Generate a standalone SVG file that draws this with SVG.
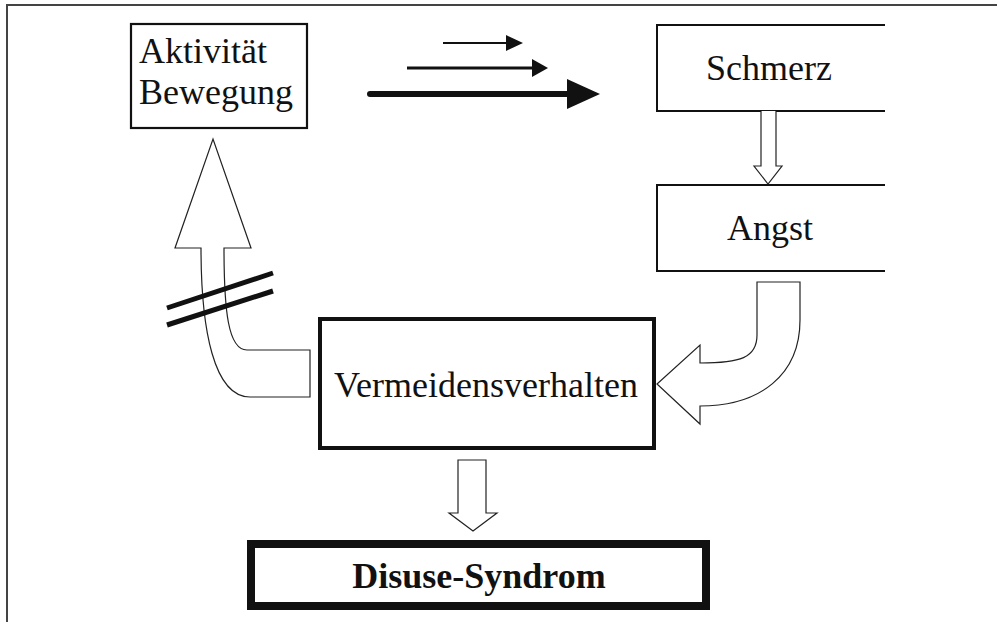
<svg xmlns="http://www.w3.org/2000/svg" width="997" height="622" viewBox="0 0 997 622">
  <style>
    .lbl { font-family: "Liberation Serif", "Times New Roman", serif; font-size: 36px; fill: #111; }
    .bold { font-weight: bold; }
    .box { fill: #fff; stroke: #111; }
    .hollow { fill: #fff; stroke: #222; stroke-width: 1.2; stroke-linejoin: miter; }
    .frame { stroke: #444; stroke-width: 2; fill: none; }
  </style>
  <defs>
    <marker id="ah" viewBox="0 0 10 10" refX="9" refY="5" markerWidth="8" markerHeight="8" markerUnits="userSpaceOnUse" orient="auto">
      <path d="M0,0 L10,5 L0,10 Z" fill="#111"/>
    </marker>
  </defs>
  <rect width="997" height="622" fill="#fff"/>
  <path class="frame" d="M7,622 L7,5 L997,5"/>

  <g id="node-aktivitaet">
    <rect class="box" x="131" y="24" width="176" height="104" stroke-width="2.2"/>
    <text class="lbl" x="139" y="63">Aktivität</text>
    <text class="lbl" x="139" y="104">Bewegung</text>
  </g>

  <g id="node-schmerz">
    <path class="box" d="M885,25 L657,25 L657,111 L885,111" stroke-width="2"/>
    <text class="lbl" x="769" y="80" text-anchor="middle">Schmerz</text>
  </g>

  <g id="node-angst">
    <path class="box" d="M885,185 L657,185 L657,271 L885,271" stroke-width="2"/>
    <text class="lbl" x="770" y="240" text-anchor="middle">Angst</text>
  </g>

  <g id="node-vermeidensverhalten">
    <rect class="box" x="320" y="319" width="334" height="129" stroke-width="4"/>
    <text class="lbl" x="486" y="397" text-anchor="middle">Vermeidensverhalten</text>
  </g>

  <g id="node-disuse">
    <rect class="box" x="251" y="544" width="455" height="62" stroke-width="8"/>
    <text class="lbl bold" x="479" y="588" text-anchor="middle">Disuse-Syndrom</text>
  </g>

  <g id="connectors">
    <!-- increasing arrows -->
    <line x1="443" y1="43" x2="508" y2="43" stroke="#111" stroke-width="2"/>
    <path d="M506,35 L523,43 L506,51 Z" fill="#111"/>
    <line x1="407" y1="68" x2="534" y2="68" stroke="#111" stroke-width="3"/>
    <path d="M532,59 L548,68 L532,77 Z" fill="#111"/>
    <line x1="370" y1="94" x2="570" y2="94" stroke="#111" stroke-width="6" stroke-linecap="round"/>
    <path d="M567,79 L600,94 L567,109 Z" fill="#111"/>

    <!-- Schmerz -> Angst -->
    <path class="hollow" d="M761,111 L761,166 L754,166 L768,184 L782,166 L776,166 L776,111"/>

    <!-- Angst -> Vermeidensverhalten -->
    <path class="hollow" d="M757,282 L800,282 L800,320 C800,375 760,406 700,406 L700,424 L657,384 L700,345 L700,363 C740,363 757,358 757,335 Z"/>

    <!-- Vermeidensverhalten -> Disuse -->
    <path class="hollow" d="M458,460 L486,460 L486,513 L497,513 L473,531 L449,513 L458,513 Z"/>

    <!-- Vermeidensverhalten -> Aktivitaet (blocked) -->
    <path class="hollow" d="M310,350 L310,397 L250,397 C214,397 201,330 201,248 L175,248 L213,139 L251,248 L224,248 C224,310 228,350 247,350 Z"/>
    <line x1="167" y1="308" x2="273" y2="273" stroke="#111" stroke-width="5"/>
    <line x1="167" y1="325" x2="273" y2="291" stroke="#111" stroke-width="5"/>
  </g>
</svg>
